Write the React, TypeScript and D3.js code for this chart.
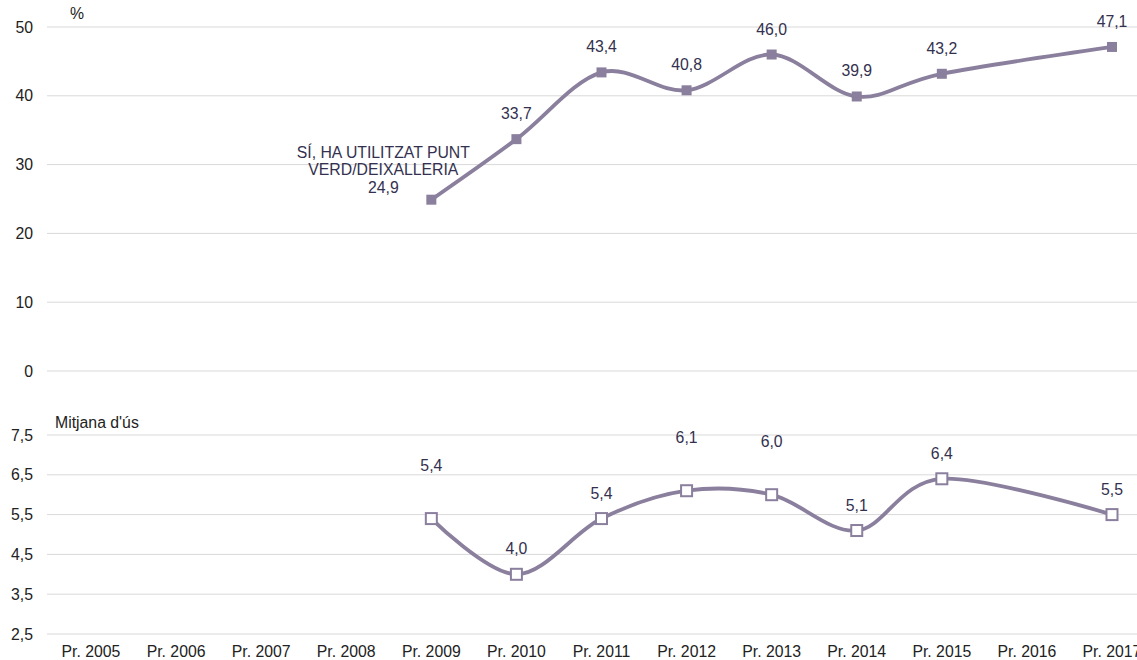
import React from 'react';
import * as d3 from 'd3';

const categories = ['Pr. 2005', 'Pr. 2006', 'Pr. 2007', 'Pr. 2008', 'Pr. 2009', 'Pr. 2010', 'Pr. 2011', 'Pr. 2012', 'Pr. 2013', 'Pr. 2014', 'Pr. 2015', 'Pr. 2016', 'Pr. 2017'];
// % sí, ha utilitzat punt verd/deixalleria
const usedValues = [null, null, null, null, 24.9, 33.7, 43.4, 40.8, 46.0, 39.9, 43.2, null, 47.1];
// mitjana d'ús
const meanValues = [null, null, null, null, 5.4, 4.0, 5.4, 6.1, 6.0, 5.1, 6.4, null, 5.5];
const topTicks = [0, 10, 20, 30, 40, 50];
const bottomTicks = [2.5, 3.5, 4.5, 5.5, 6.5, 7.5];
const seriesName = ['SÍ, HA UTILITZAT PUNT', 'VERD/DEIXALLERIA'];
// labels moved up by hand in the original so they don't sit on the line
const raisedMeanLabels = ['Pr. 2009', 'Pr. 2012', 'Pr. 2013'];

const W = 1137;
const H = 660;
const lineColor = '#8b7f9e';
const labelColor = '#33314f';
const gridColor = '#d9d9d9';
const font = 'Liberation Sans, Arial, sans-serif';
const fs = 15.8;

const fmt = (v: number) => d3.format('.1f')(v).replace('.', ',');

export default function App() {
  const x = d3.scalePoint<string>().domain(categories).range([91, 1112]);
  const yTop = d3.scaleLinear().domain([0, 50]).range([371, 27]);
  const yBot = d3.scaleLinear().domain([2.5, 7.5]).range([634, 435]);

  const topPts = categories
    .map((c, i) => ({ c, v: usedValues[i] }))
    .filter(d => d.v != null) as { c: string; v: number }[];
  const botPts = categories
    .map((c, i) => ({ c, v: meanValues[i] }))
    .filter(d => d.v != null) as { c: string; v: number }[];

  const lineTop = d3.line<{ c: string; v: number }>()
    .x(d => x(d.c)!)
    .y(d => yTop(d.v))
    .curve(d3.curveCatmullRom.alpha(0));
  const lineBot = d3.line<{ c: string; v: number }>()
    .x(d => x(d.c)!)
    .y(d => yBot(d.v))
    .curve(d3.curveCatmullRom.alpha(0));

  const first = topPts[0];

  return (
    <svg width={W} height={H} style={{ position: 'absolute', left: 0, top: 0, background: '#fff' }} fontFamily={font}>
      {/* grids */}
      {topTicks.map(t => (
        <g key={'t' + t}>
          <line x1={47} x2={W} y1={yTop(t)} y2={yTop(t)} stroke={gridColor} strokeWidth={1} />
          <text x={33} y={yTop(t) + 5.5} textAnchor="end" fontSize={fs} fill="#222">{t}</text>
        </g>
      ))}
      {bottomTicks.map(t => (
        <g key={'b' + t}>
          <line x1={47} x2={W} y1={yBot(t)} y2={yBot(t)} stroke={gridColor} strokeWidth={1} />
          <text x={33} y={yBot(t) + 5.5} textAnchor="end" fontSize={fs} fill="#222">{fmt(t)}</text>
        </g>
      ))}
      <text x={70} y={19} fontSize={fs} fill="#222">%</text>
      <text x={55} y={428} fontSize={fs} fill="#222">Mitjana d'ús</text>

      {categories.map(c => (
        <text key={c} x={x(c)} y={657} textAnchor="middle" fontSize={fs} fill="#222">{c}</text>
      ))}

      {/* top series */}
      <path d={lineTop(topPts) || ''} fill="none" stroke={lineColor} strokeWidth={3.8} />
      {topPts.map(d => (
        <rect key={d.c} x={x(d.c)! - 5} y={yTop(d.v) - 5} width={10} height={10} fill={lineColor} />
      ))}
      {topPts.slice(1).map(d => (
        <text key={d.c} x={x(d.c)} y={yTop(d.v) - 20} textAnchor="middle" fontSize={fs} fill={labelColor}>{fmt(d.v)}</text>
      ))}
      <text x={x(first.c)! - 48} y={yTop(first.v) - 7} textAnchor="middle" fontSize={fs} fill={labelColor}>
        <tspan x={x(first.c)! - 48} dy={-35}>{seriesName[0]}</tspan>
        <tspan x={x(first.c)! - 48} dy={17.5}>{seriesName[1]}</tspan>
        <tspan x={x(first.c)! - 48} dy={17.5}>{fmt(first.v)}</tspan>
      </text>

      {/* bottom series */}
      <path d={lineBot(botPts) || ''} fill="none" stroke={lineColor} strokeWidth={3.8} />
      {botPts.map(d => (
        <rect key={d.c} x={x(d.c)! - 5.5} y={yBot(d.v) - 5.5} width={11} height={11} fill="#fff" stroke={lineColor} strokeWidth={2} />
      ))}
      {botPts.map(d => (
        <text key={d.c} x={x(d.c)} y={yBot(d.v) - 20 - (raisedMeanLabels.includes(d.c) ? 28 : 0)} textAnchor="middle" fontSize={fs} fill={labelColor}>{fmt(d.v)}</text>
      ))}
    </svg>
  );
}
